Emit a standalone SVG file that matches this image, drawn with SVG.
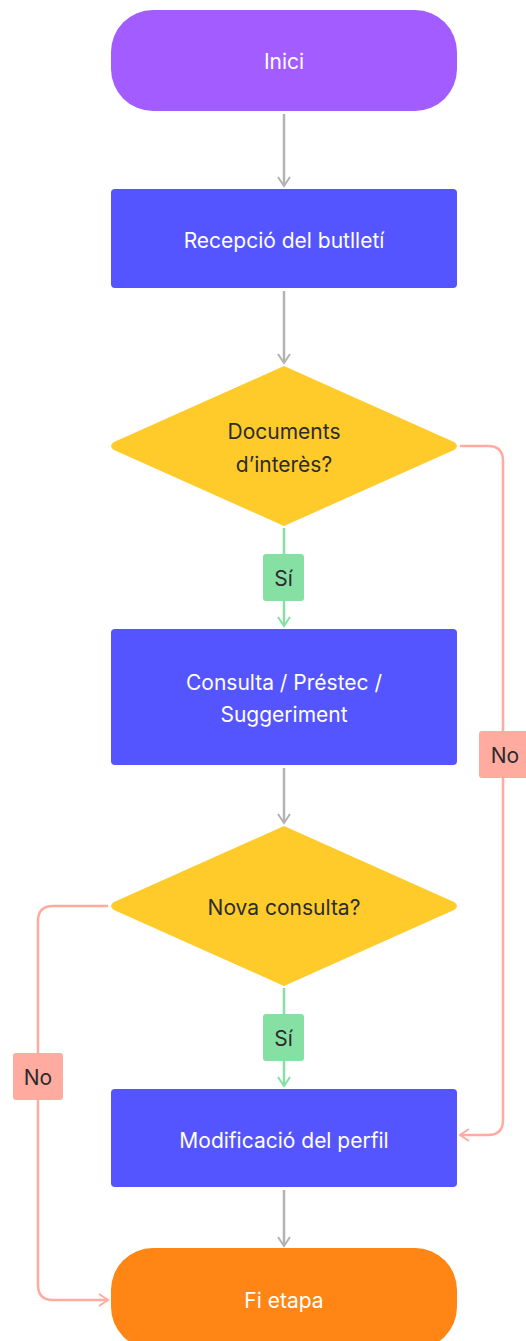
<svg xmlns="http://www.w3.org/2000/svg" width="526" height="1341" viewBox="0 0 526 1341">
  <defs>
    <style>
      .lbl { font-family: Inter, "Liberation Sans", sans-serif; font-size: 21px; text-anchor: middle; dominant-baseline: central; }
      .light { fill: #ffffff; }
      .dark { fill: #2b2b2b; }
      .flow { fill: none; stroke: #b3b3b3; stroke-width: 2.5; }
      .yes { fill: none; stroke: #86e0a3; stroke-width: 2.5; }
      .no { fill: none; stroke: #ffaba0; stroke-width: 2.5; }
      .proc { fill: #5555ff; }
      .dec { fill: #ffcb2b; }
    </style>
    <marker id="ah-gray" viewBox="0 0 12 14" refX="10" refY="7" markerWidth="12" markerHeight="14" markerUnits="userSpaceOnUse" orient="auto">
      <path d="M1,1 L10,7 L1,13" fill="none" stroke="#b3b3b3" stroke-width="2"/>
    </marker>
    <marker id="ah-green" viewBox="0 0 12 14" refX="10" refY="7" markerWidth="12" markerHeight="14" markerUnits="userSpaceOnUse" orient="auto">
      <path d="M1,1 L10,7 L1,13" fill="none" stroke="#86e0a3" stroke-width="2"/>
    </marker>
    <marker id="ah-red" viewBox="0 0 12 14" refX="10" refY="7" markerWidth="12" markerHeight="14" markerUnits="userSpaceOnUse" orient="auto">
      <path d="M1,1 L10,7 L1,13" fill="none" stroke="#ffaba0" stroke-width="2"/>
    </marker>
  </defs>

  <!-- connectors -->
  <g id="connectors">
    <path class="flow" d="M284,114 V186" marker-end="url(#ah-gray)"/>
    <path class="flow" d="M284,291 V363" marker-end="url(#ah-gray)"/>
    <path class="yes" d="M284,528 V626" marker-end="url(#ah-green)"/>
    <path class="flow" d="M284,768 V823" marker-end="url(#ah-gray)"/>
    <path class="yes" d="M284,988 V1086" marker-end="url(#ah-green)"/>
    <path class="flow" d="M284,1190 V1246" marker-end="url(#ah-gray)"/>
    <path class="no" d="M460,446 H488 Q503,446 503,461 V1120 Q503,1135 488,1135 H460" marker-end="url(#ah-red)"/>
    <path class="no" d="M108,906 H53 Q38,906 38,921 V1285 Q38,1300 53,1300 H108" marker-end="url(#ah-red)"/>

    <rect x="263" y="554" width="41" height="47" rx="3" fill="#86e0a3"/>
    <text class="lbl dark" x="283.5" y="578">Sí</text>
    <rect x="263" y="1014" width="41" height="47" rx="3" fill="#86e0a3"/>
    <text class="lbl dark" x="283.5" y="1038">Sí</text>
    <rect x="479" y="731" width="50" height="47" rx="3" fill="#ffaba0"/>
    <text class="lbl dark" x="505" y="755">No</text>
    <rect x="13" y="1053" width="50" height="47" rx="3" fill="#ffaba0"/>
    <text class="lbl dark" x="38" y="1077">No</text>
  </g>

  <g id="inici">
    <rect x="111" y="10" width="346" height="101" rx="42" fill="#a25cff"/>
    <text class="lbl light" x="284" y="61">Inici</text>
  </g>

  <g id="recepcio">
    <rect class="proc" x="111" y="189" width="346" height="99" rx="4"/>
    <text class="lbl light" x="284" y="240">Recepció del butlletí</text>
  </g>

  <g id="documents">
    <path class="dec" d="M284,366 L454,442 Q460,446 454,450 L284,526 L114,450 Q108,446 114,442 Z"/>
    <text class="lbl dark" x="284" y="431">Documents</text>
    <text class="lbl dark" x="284" y="464">d’interès?</text>
  </g>

  <g id="consulta">
    <rect class="proc" x="111" y="629" width="346" height="136" rx="4"/>
    <text class="lbl light" x="284" y="682">Consulta / Préstec /</text>
    <text class="lbl light" x="284" y="714">Suggeriment</text>
  </g>

  <g id="nova">
    <path class="dec" d="M284,826 L454,902 Q460,906 454,910 L284,986 L114,910 Q108,906 114,902 Z"/>
    <text class="lbl dark" x="284" y="907">Nova consulta?</text>
  </g>

  <g id="modificacio">
    <rect class="proc" x="111" y="1089" width="346" height="98" rx="4"/>
    <text class="lbl light" x="284" y="1140">Modificació del perfil</text>
  </g>

  <g id="fi">
    <rect x="111" y="1248" width="346" height="101" rx="42" fill="#ff8514"/>
    <text class="lbl light" x="284" y="1300">Fi etapa</text>
  </g>
</svg>
